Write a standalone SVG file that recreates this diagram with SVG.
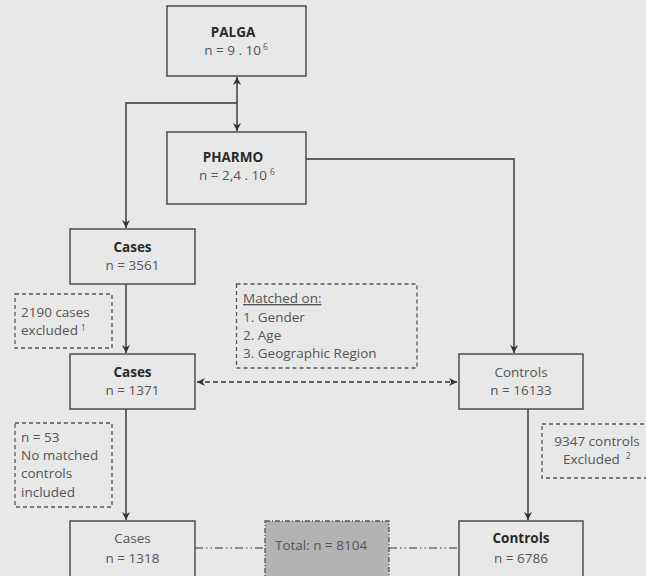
<svg xmlns="http://www.w3.org/2000/svg" width="646" height="576" viewBox="0 0 646 576">
<defs>
<marker id="ah" viewBox="0 0 10 10" refX="10" refY="5" markerWidth="9" markerHeight="8" markerUnits="userSpaceOnUse" orient="auto-start-reverse">
<path d="M0,0 L10,5 L0,10 L3,5 z" fill="#333"/>
</marker>
</defs>
<style>
.box{fill:none;stroke:#444;stroke-width:1.4}
.dbox{fill:none;stroke:#555;stroke-width:1.3;stroke-dasharray:4 3}
.tot{fill:#b3b3b3;stroke:#555;stroke-width:1.3;stroke-dasharray:5 2 1 2}
.ln{fill:none;stroke:#333;stroke-width:1.4}
.dl{fill:none;stroke:#333;stroke-width:1.4;stroke-dasharray:5 3}
.dd{fill:none;stroke:#333;stroke-width:1.2;stroke-dasharray:8 3 1.5 3 1.5 3}
text{font-family:"Open Sans","Noto Sans","Liberation Sans",sans-serif;font-size:13.5px;fill:#555}
.b{font-weight:bold;fill:#2a2a2a}
.c{text-anchor:middle}
.sup{font-size:8.5px}
</style>
<rect width="646" height="576" fill="#e8e8e8"/>
<g id="connectors">
<path class="ln" d="M237,77 V131" marker-start="url(#ah)" marker-end="url(#ah)"/>
<path class="ln" d="M237,103 H126 V228" marker-end="url(#ah)"/>
<path class="ln" d="M306,159 H514 V353" marker-end="url(#ah)"/>
<path class="ln" d="M126,284 V353" marker-end="url(#ah)"/>
<path class="dl" d="M197,382 H457" marker-start="url(#ah)" marker-end="url(#ah)"/>
<path class="ln" d="M126,409 V520" marker-end="url(#ah)"/>
<path class="ln" d="M528,409 V520" marker-end="url(#ah)"/>
<path class="dd" d="M195,548 H265"/>
<path class="dd" d="M389,548 H459"/>
</g>
<g id="palga">
<rect class="box" x="167" y="6" width="139" height="70"/>
<text class="b c" x="233" y="37">PALGA</text>
<text class="c" x="236" y="55">n = 9 . 10<tspan class="sup" dx="2" dy="-5">6</tspan></text>
</g>
<g id="pharmo">
<rect class="box" x="167" y="132" width="139" height="72"/>
<text class="b c" x="233" y="162">PHARMO</text>
<text class="c" x="237" y="180">n = 2,4 . 10<tspan class="sup" dx="3" dy="-5">6</tspan></text>
</g>
<g id="cases1">
<rect class="box" x="70" y="229" width="125" height="55"/>
<text class="b c" x="132.5" y="252">Cases</text>
<text class="c" x="132.5" y="270">n = 3561</text>
</g>
<g id="excl1">
<rect class="dbox" x="15" y="294" width="97" height="54"/>
<text x="21" y="317">2190 cases</text>
<text x="21" y="335">excluded<tspan class="sup" dx="3" dy="-4">1</tspan></text>
</g>
<g id="matched">
<rect class="dbox" x="236.5" y="284" width="180.5" height="84"/>
<text x="243" y="303" text-decoration="underline">Matched on:</text>
<text x="243" y="322">1. Gender</text>
<text x="243" y="340">2. Age</text>
<text x="243" y="358">3. Geographic Region</text>
</g>
<g id="cases2">
<rect class="box" x="70" y="354" width="125" height="55"/>
<text class="b c" x="132.5" y="377">Cases</text>
<text class="c" x="132.5" y="395">n = 1371</text>
</g>
<g id="controls1">
<rect class="box" x="459" y="354" width="124" height="55"/>
<text class="c" x="521" y="377">Controls</text>
<text class="c" x="521" y="395">n = 16133</text>
</g>
<g id="excl53">
<rect class="dbox" x="15" y="423" width="97" height="84"/>
<text x="21" y="442">n = 53</text>
<text x="21" y="460">No matched</text>
<text x="21" y="478">controls</text>
<text x="21" y="497">included</text>
</g>
<g id="excl2">
<rect class="dbox" x="542" y="424" width="110" height="54"/>
<text class="c" x="597" y="446">9347 controls</text>
<text x="563" y="464">Excluded<tspan class="sup" dx="6" dy="-5">2</tspan></text>
</g>
<g id="cases3">
<rect class="box" x="70" y="521" width="125" height="62"/>
<text class="c" x="132.5" y="543">Cases</text>
<text class="c" x="132.5" y="563">n = 1318</text>
</g>
<g id="total">
<rect class="tot" x="265" y="521" width="124" height="62"/>
<text x="275" y="550">Total: n = 8104</text>
</g>
<g id="controls2">
<rect class="box" x="459" y="521" width="124" height="62"/>
<text class="b c" x="521" y="543">Controls</text>
<text class="c" x="521" y="563">n = 6786</text>
</g>
</svg>
